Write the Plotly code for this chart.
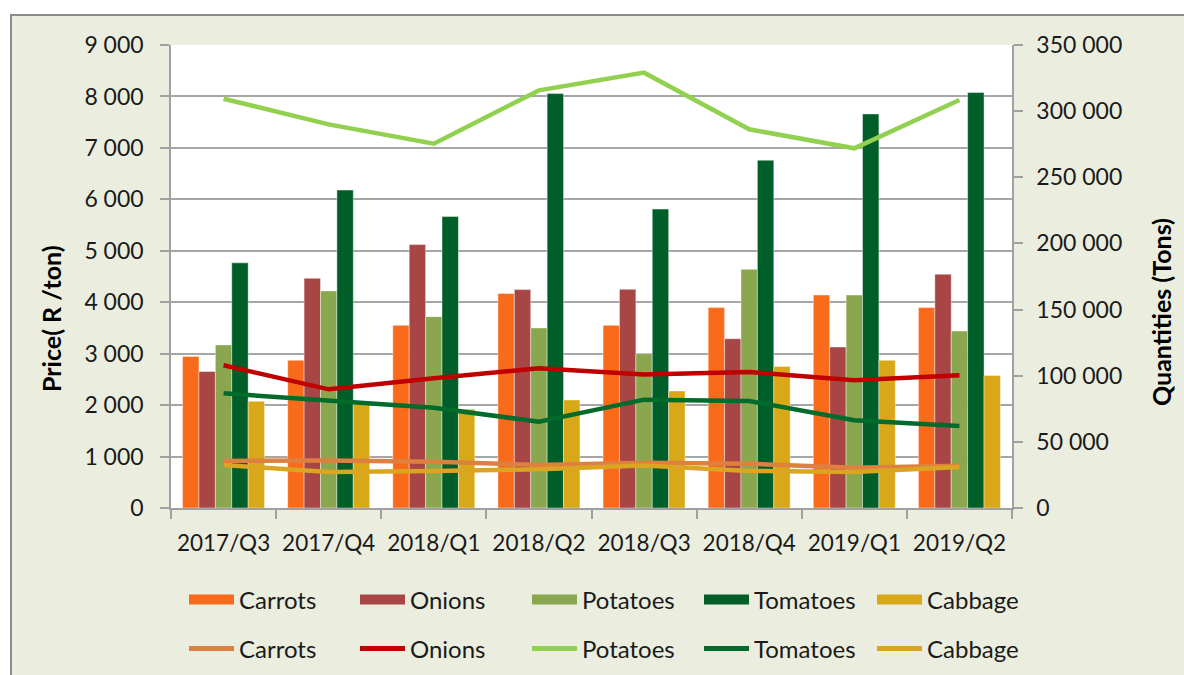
import plotly.graph_objects as go

quarters = ["2017/Q3", "2017/Q4", "2018/Q1", "2018/Q2", "2018/Q3", "2018/Q4", "2019/Q1", "2019/Q2"]

# Prices (R/ton) - bars, left axis
price_carrots = [2945, 2870, 3550, 4170, 3550, 3895, 4140, 3895]
price_onions = [2655, 4465, 5120, 4245, 4250, 3290, 3130, 4545]
price_potatoes = [3170, 4220, 3720, 3500, 3000, 4640, 4140, 3440]
price_tomatoes = [4765, 6180, 5665, 8055, 5810, 6760, 7660, 8075]
price_cabbage = [2075, 2020, 1920, 2100, 2275, 2750, 2870, 2575]

# Quantities (tons) - lines, right axis
qty_carrots = [35500, 36000, 35000, 32500, 34300, 33500, 30500, 32000]
qty_onions = [107900, 89700, 98000, 105600, 101000, 102800, 96500, 100300]
qty_potatoes = [309400, 290000, 275400, 315700, 329100, 286300, 271900, 308400]
qty_tomatoes = [86700, 81400, 75800, 65200, 81900, 80900, 66300, 62000]
qty_cabbage = [32500, 27200, 28000, 29200, 32200, 28000, 27200, 31000]

names = ["Carrots", "Onions", "Potatoes", "Tomatoes", "Cabbage"]
bar_colors = ["#F96A1B", "#A84646", "#8AA64E", "#005E28", "#D8A818"]
line_colors = ["#DD8040", "#C00000", "#92D050", "#006B2A", "#DBA521"]

prices = [price_carrots, price_onions, price_potatoes, price_tomatoes, price_cabbage]
qtys = [qty_carrots, qty_onions, qty_potatoes, qty_tomatoes, qty_cabbage]

FONT = "Lato, 'Open Sans', sans-serif"
TXT = "#1a1a1a"

SY = 683 / 675          # small vertical compensation for the photographed page
W, H = 1184, 683
L, R = 171, 1012
T, B = round(44 * SY), round(507 * SY)
def px(x):
    return (x - L) / (R - L)
def py(y):  # y in target-picture pixels -> paper
    return (507 - y) / (507 - 44)

# legend column starts and row centres (target-picture pixels)
leg_cols = [183, 354, 526, 698, 871]
row1_y, row2_y = 599, 648

fig = go.Figure()
for n, c, v in zip(names, bar_colors, prices):
    fig.add_trace(go.Bar(x=quarters, y=v, name=n, showlegend=False,
                         marker=dict(color=c, line=dict(width=0.6, color="rgba(255,255,255,0.7)")),
                         yaxis="y"))
for n, c, v in zip(names, line_colors, qtys):
    fig.add_trace(go.Scatter(x=quarters, y=v, name=n, mode="lines", showlegend=False,
                             line=dict(color=c, width=4.5), yaxis="y2"))

# legend entries (row 1: bar swatches, row 2: line swatches)
legends = {}
for i, (n, c) in enumerate(zip(names, bar_colors)):
    key = "legend" if i == 0 else f"legend{i + 1}"
    fig.add_trace(go.Scatter(x=[None], y=[None], name=n, mode="lines", showlegend=True,
                             line=dict(color=c, width=15), legend=key, hoverinfo="skip"))
    legends[key] = dict(x=px(leg_cols[i] + 1), y=py(row1_y))
for i, (n, c) in enumerate(zip(names, line_colors)):
    key = f"legend{i + 6}"
    fig.add_trace(go.Scatter(x=[None], y=[None], name=n, mode="lines", showlegend=True,
                             line=dict(color=c, width=5), legend=key, hoverinfo="skip"))
    legends[key] = dict(x=px(leg_cols[i] + 1), y=py(row2_y))

for key, pos in legends.items():
    fig.update_layout({key: dict(orientation="h", x=pos["x"], xanchor="left", y=pos["y"], yanchor="middle",
                                 bgcolor="rgba(0,0,0,0)", borderwidth=0, itemwidth=45,
                                 font=dict(size=24, color=TXT, family=FONT))})

axis_common = dict(showline=True, linecolor="#A0A0A0", linewidth=1.5, ticks="outside", ticklen=9,
                   tickcolor="#A0A0A0", tickwidth=1.5, automargin=False)

fig.update_layout(
    width=W, height=H,
    margin=dict(l=L, r=W - R, t=T, b=H - B),
    paper_bgcolor="#FFFFFF", plot_bgcolor="rgba(0,0,0,0)",
    separators=". ",
    font=dict(family=FONT, color=TXT, size=23),
    barmode="group", bargap=0.22, bargroupgap=0,
    xaxis=dict(type="category", showgrid=False, tickson="boundaries",
               tickfont=dict(size=22.5, color=TXT), ticklabelstandoff=14, **axis_common),
    yaxis=dict(range=[0, 9000], dtick=1000, tickformat=",d", showgrid=True, gridcolor="#A6A6A6", gridwidth=1.5,
               zeroline=False, tickfont=dict(size=23, color=TXT), ticklabelstandoff=12, **axis_common),
    yaxis2=dict(range=[0, 350000], dtick=50000, tickformat=",d", overlaying="y", side="right",
                showgrid=False, zeroline=False, tickfont=dict(size=23, color=TXT), ticklabelstandoff=9,
                **axis_common),
    annotations=[
        dict(text="<b>Price( R /ton)</b>", xref="paper", yref="paper", x=px(51), y=py(318),
             textangle=-90, showarrow=False, xanchor="center", yanchor="middle",
             font=dict(size=25, color="#000000", family=FONT)),
        dict(text="<b>Quantities (Tons)</b>", xref="paper", yref="paper", x=px(1161), y=py(311),
             textangle=-90, showarrow=False, xanchor="center", yanchor="middle",
             font=dict(size=25, color="#000000", family=FONT)),
    ],
    shapes=[
        dict(type="rect", xref="paper", yref="paper", x0=px(11), x1=px(1220), y0=py(14), y1=py(740),
             line=dict(color="#8C8C8C", width=2), fillcolor="#EBEEDF", layer="below"),
        dict(type="rect", xref="paper", yref="paper", x0=0, x1=1, y0=0, y1=1,
             line=dict(width=0), fillcolor="#FFFFFF", layer="below"),
    ],
)

fig.write_html("out.html", config={"displayModeBar": False},
               post_script="document.body.style.margin='0';document.body.style.overflow='hidden';")
